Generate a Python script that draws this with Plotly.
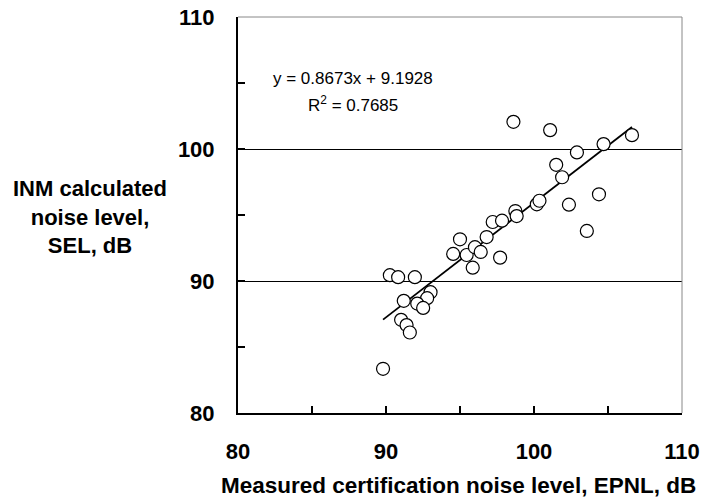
import plotly.graph_objects as go
import numpy as np

# Measured certification noise level (EPNL, dB)
epnl = [89.80, 90.26, 90.82, 91.95, 93.01, 92.78, 91.20, 92.11, 92.51, 91.02,
        91.39, 91.61, 94.54, 95.00, 95.45, 96.01, 96.40, 95.86, 96.80, 97.21,
        97.84, 97.71, 98.74, 98.83, 100.19, 100.37, 101.50, 101.90, 102.36, 103.57,
        104.39, 98.61, 101.09, 106.62, 104.70, 102.90]
# INM calculated noise level (SEL, dB)
sel = [83.35, 90.44, 90.29, 90.29, 89.15, 88.70, 88.50, 88.29, 87.96, 87.06,
       86.66, 86.10, 92.05, 93.16, 91.97, 92.56, 92.20, 91.01, 93.33, 94.47,
       94.57, 91.77, 95.30, 94.92, 95.81, 96.08, 98.80, 97.86, 95.78, 93.79,
       96.57, 102.06, 101.43, 101.05, 100.37, 99.74]

slope = 0.8673
intercept = 9.1928
r2 = 0.7685
x_ticks = [80, 90, 100, 110]
y_ticks = [80, 90, 100, 110]

fit_x = np.array([min(epnl), max(epnl)])
fit_y = slope * fit_x + intercept

FONT = "Liberation Sans, Arial, sans-serif"

fig = go.Figure()
fig.add_trace(go.Scatter(
    x=fit_x, y=fit_y, mode="lines",
    line=dict(color="black", width=1.8), showlegend=False, hoverinfo="skip"))
fig.add_trace(go.Scatter(
    x=epnl, y=sel, mode="markers",
    marker=dict(symbol="circle", size=13, color="white",
                line=dict(color="black", width=1.2)),
    showlegend=False))

fig.update_layout(
    width=703, height=500,
    margin=dict(l=238, r=21, t=17, b=87),
    paper_bgcolor="white", plot_bgcolor="white",
    font=dict(family=FONT, color="black"),
    xaxis=dict(range=[80, 110], tickvals=x_ticks, ticks="inside", ticklen=7,
               tickwidth=1.5, tickcolor="black", automargin=False,
               showline=True, linecolor="black", linewidth=2,
               showgrid=False, zeroline=False,
               tickfont=dict(size=22, family=FONT, color="black", weight="bold"),
               ticklabelstandoff=18,
               minor=dict(dtick=5, ticks="inside", ticklen=7, tickwidth=1.5,
                          tickcolor="black", showgrid=False)),
    yaxis=dict(range=[80, 110], tickvals=y_ticks, ticks="inside", ticklen=7,
               tickwidth=1.5, tickcolor="black", automargin=False,
               showline=True, linecolor="black", linewidth=2,
               showgrid=True, gridcolor="black", gridwidth=1, zeroline=False,
               tickfont=dict(size=22, family=FONT, color="black", weight="bold"),
               ticklabelstandoff=17,
               minor=dict(dtick=5, ticks="inside", ticklen=7, tickwidth=1.5,
                          tickcolor="black", showgrid=False)),
    shapes=[
        dict(type="line", xref="paper", yref="paper", x0=0, x1=1, y0=1, y1=1,
             line=dict(color="#888888", width=1), layer="above"),
        dict(type="line", xref="paper", yref="paper", x0=1, x1=1, y0=0, y1=1,
             line=dict(color="#888888", width=1), layer="above"),
    ],
    annotations=[
        dict(text="<b>INM calculated<br>noise level,<br>SEL, dB</b>",
             xref="paper", yref="paper", x=-0.334, y=0.495, xanchor="center",
             yanchor="middle", showarrow=False, align="center",
             font=dict(size=22, family=FONT, color="black")),
        dict(text="<b>Measured certification noise level, EPNL, dB</b>",
             xref="paper", yref="paper", x=0.496, y=-0.183, xanchor="center",
             yanchor="middle", showarrow=False,
             font=dict(size=22.5, family=FONT, color="black")),
        dict(text=f"y = {slope}x + {intercept}", xref="paper", yref="paper",
             x=0.258, y=0.845, xanchor="center", yanchor="middle", showarrow=False,
             font=dict(size=17, family=FONT, color="black")),
        dict(text=f"R<sup>2</sup> = {r2}", xref="paper", yref="paper",
             x=0.258, y=0.781, xanchor="center", yanchor="middle", showarrow=False,
             font=dict(size=17, family=FONT, color="black")),
    ],
)

fig.write_html("out.html")
